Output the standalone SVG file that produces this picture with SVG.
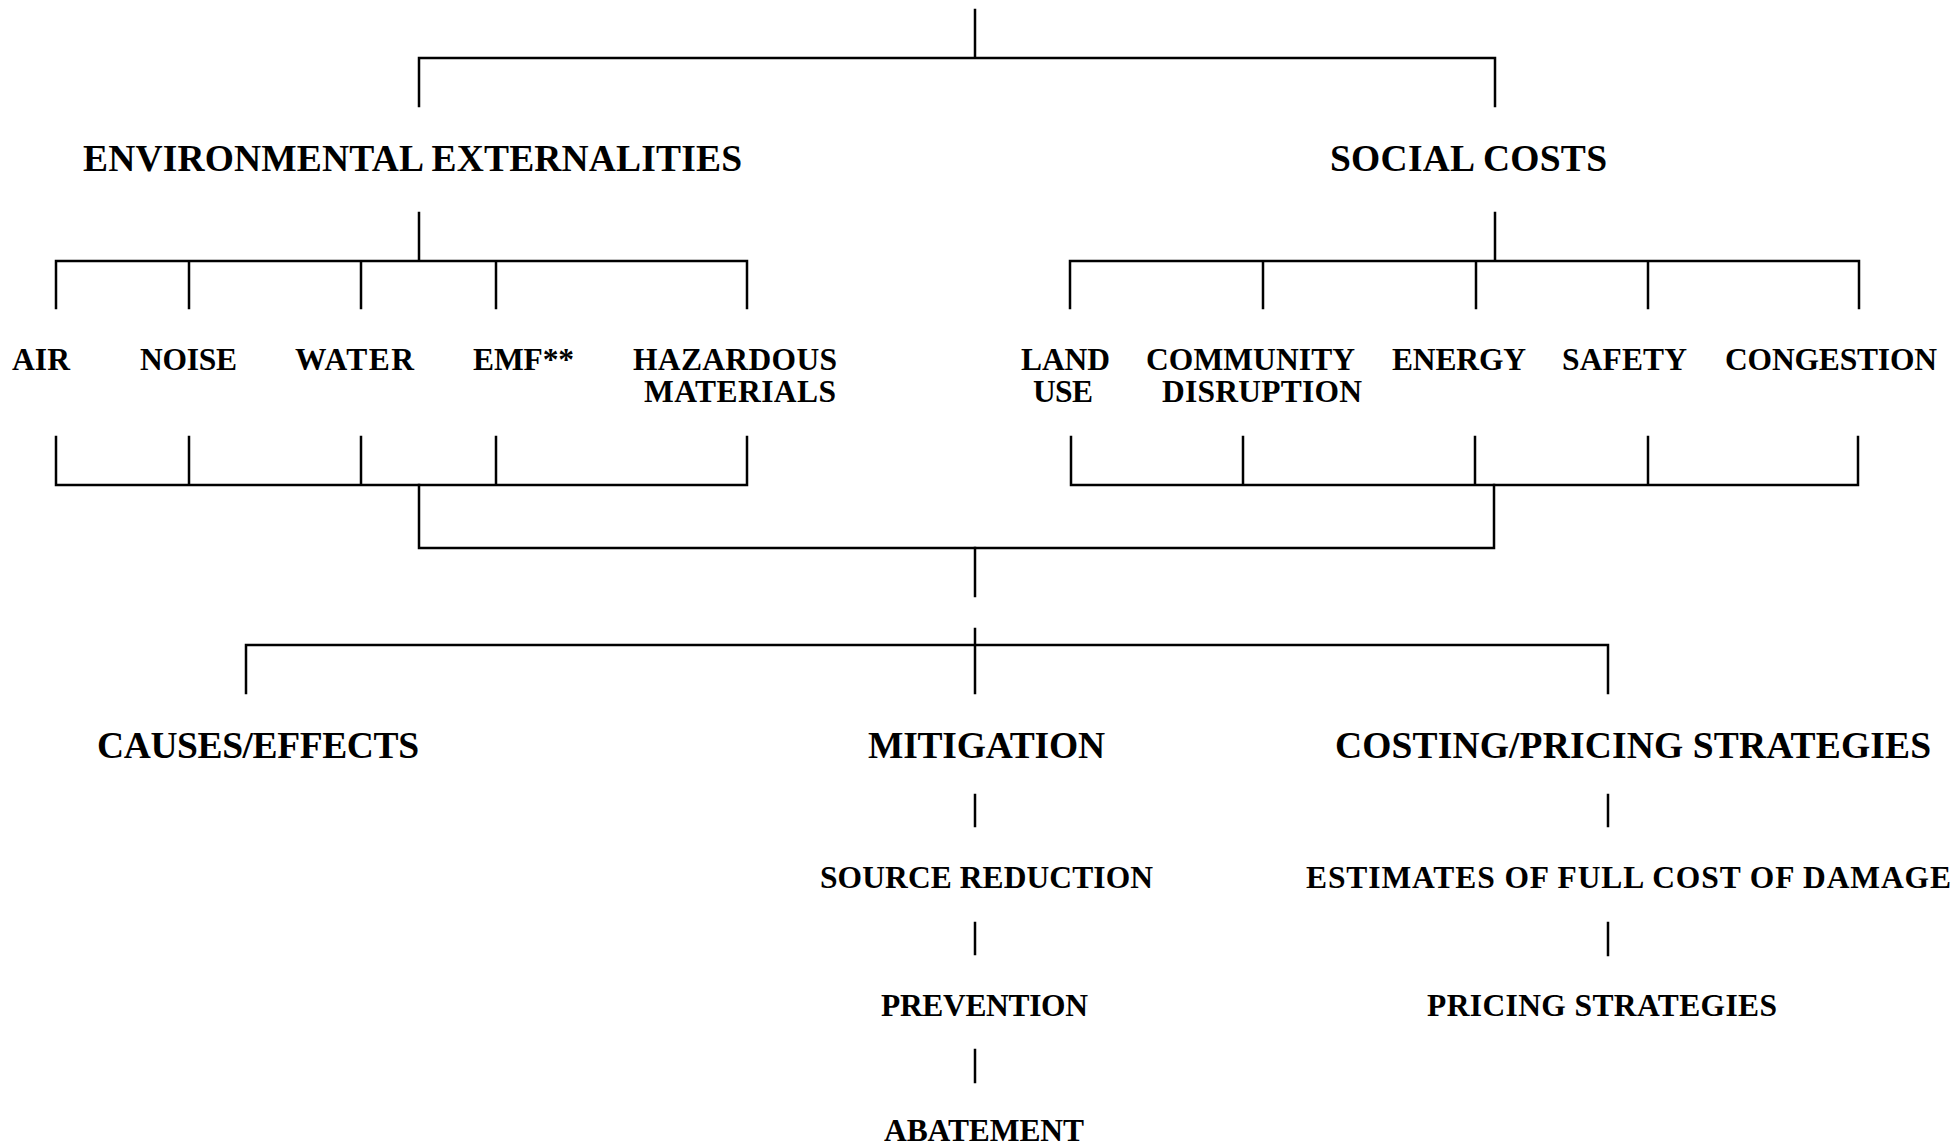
<svg xmlns="http://www.w3.org/2000/svg" width="1956" height="1147" viewBox="0 0 1956 1147">
<style>
.t{font-family:"Liberation Serif","Times New Roman",serif;font-weight:bold;fill:#000}
.h{font-size:37.5px}
.s{font-size:31.5px}
.c{fill:none;stroke:#000;stroke-width:2.5;stroke-linecap:square}
</style>
<rect width="1956" height="1147" fill="#fff"/>
<g id="connectors" class="c">
<path d="M975 10V58M419 106V58H1495V106"/>
<path d="M419 213V261M56 308V261H747V308M189 261V308M361 261V308M496 261V308"/>
<path d="M1495 213V261M1070 308V261H1859V308M1263 261V308M1476 261V308M1648 261V308"/>
<path d="M56 437V485H747V437M189 437V485M361 437V485M496 437V485"/>
<path d="M1071 437V485H1858V437M1243 437V485M1475 437V485M1648 437V485"/>
<path d="M419 485V548H1494V485"/>
<path d="M975 548V596"/>
<path d="M975 629V693M246 693V645H1608V693"/>
<path d="M975 795V826M975 923V954M975 1050V1082"/>
<path d="M1608 795V826M1608 923V955"/>
</g>
<g id="env"><text class="t h" x="83" y="171" textLength="659">ENVIRONMENTAL EXTERNALITIES</text></g>
<g id="social"><text class="t h" x="1330" y="171" textLength="277">SOCIAL COSTS</text></g>
<g id="air"><text class="t s" x="12" y="370" textLength="58">AIR</text></g>
<g id="noise"><text class="t s" x="140" y="370" textLength="97">NOISE</text></g>
<g id="water"><text class="t s" x="295" y="370" textLength="119">WATER</text></g>
<g id="emf"><text class="t s" x="473" y="370" textLength="101">EMF**</text></g>
<g id="hazardous"><text class="t s" x="633" y="370" textLength="204">HAZARDOUS</text><text class="t s" x="644" y="402" textLength="192">MATERIALS</text></g>
<g id="landuse"><text class="t s" x="1021" y="370" textLength="89">LAND</text><text class="t s" x="1033" y="402" textLength="60">USE</text></g>
<g id="community"><text class="t s" x="1146" y="370" textLength="209">COMMUNITY</text><text class="t s" x="1162" y="402" textLength="200">DISRUPTION</text></g>
<g id="energy"><text class="t s" x="1392" y="370" textLength="134">ENERGY</text></g>
<g id="safety"><text class="t s" x="1562" y="370" textLength="125">SAFETY</text></g>
<g id="congestion"><text class="t s" x="1725" y="370" textLength="212">CONGESTION</text></g>
<g id="causes"><text class="t h" x="97" y="758" textLength="322">CAUSES/EFFECTS</text></g>
<g id="mitigation"><text class="t h" x="868" y="758" textLength="237">MITIGATION</text></g>
<g id="costing"><text class="t h" x="1335" y="758" textLength="596">COSTING/PRICING STRATEGIES</text></g>
<g id="source"><text class="t s" x="820" y="888" textLength="333">SOURCE REDUCTION</text></g>
<g id="prevention"><text class="t s" x="881" y="1016" textLength="207">PREVENTION</text></g>
<g id="abatement"><text class="t s" x="884" y="1141" textLength="200">ABATEMENT</text></g>
<g id="estimates"><text class="t s" x="1306" y="888" textLength="645">ESTIMATES OF FULL COST OF DAMAGE</text></g>
<g id="pricing"><text class="t s" x="1427" y="1016" textLength="350">PRICING STRATEGIES</text></g>
</svg>
